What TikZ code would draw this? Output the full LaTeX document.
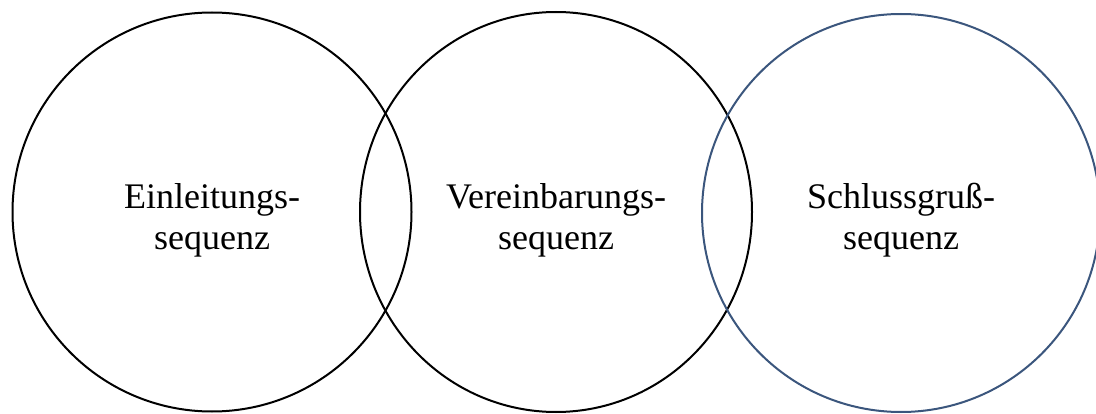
\documentclass[tikz,border=0pt]{standalone}
\usepackage{fontspec}
\setmainfont{Liberation Serif}
\usetikzlibrary{shapes.geometric}
\definecolor{slateblue}{RGB}{59,86,125}
\begin{document}
\begin{tikzpicture}[x=1pt,y=1pt,
  ring/.style={draw, line width=2pt, inner sep=0pt, outer sep=0pt},
  label/.style={align=center, inner sep=0pt, font=\fontsize{36}{41}\selectfont}]
\useasboundingbox (0,0) rectangle (1096,-414);
\begin{scope}
\clip (0,0) rectangle (1096,-414);
\node[ring, circle, minimum size=399pt, draw=black] (c1) at (212,-212) {};
\node[ring, ellipse, minimum width=392pt, minimum height=400pt, draw=black] (c2) at (556,-212) {};
\node[ring, circle, minimum size=398pt, draw=slateblue] (c3) at (901,-213) {};
\end{scope}
\node[label] (t1) at ([yshift=-8pt]c1.center) {Einleitungs-\\sequenz};
\node[label] (t2) at ([yshift=-8pt]c2.center) {Vereinbarungs-\\sequenz};
\node[label] (t3) at ([yshift=-7pt]c3.center) {Schlussgruß-\\sequenz};
\end{tikzpicture}
\end{document}
